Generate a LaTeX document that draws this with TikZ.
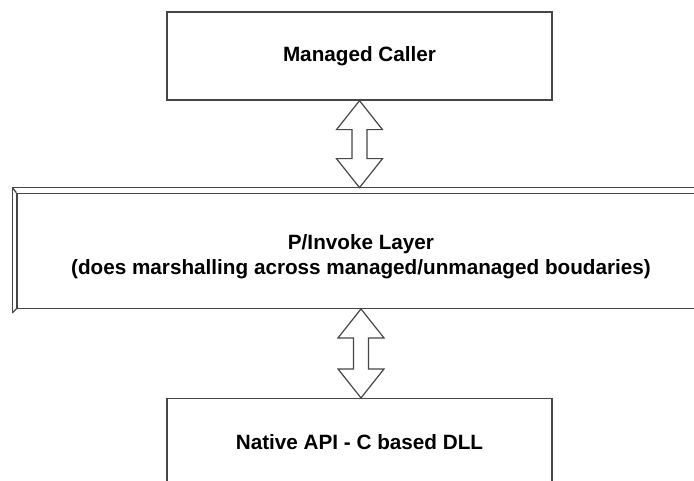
\documentclass[tikz,border=0pt]{standalone}
\usepackage{fontspec}
\setmainfont{Liberation Sans}
\usetikzlibrary{calc,positioning}
\definecolor{edgegray}{RGB}{70,70,70}

% hollow two-headed block arrow between two anchors
\newcommand{\dualarrow}[2]{%
  \draw[hollow] let \p1=(#1), \p2=(#2) in
    (\x1,\y1) -- (\x1+23pt,\y1-29pt) -- (\x1+7.5pt,\y1-29pt)
    -- (\x1+7.5pt,\y2+29pt) -- (\x1+23pt,\y2+29pt) -- (\x1,\y2)
    -- (\x1-23pt,\y2+29pt) -- (\x1-7.5pt,\y2+29pt)
    -- (\x1-7.5pt,\y1-29pt) -- (\x1-23pt,\y1-29pt) -- cycle;
}

\begin{document}
\begin{tikzpicture}[
    x=1pt,y=1pt,
    font=\fontsize{20.7}{25}\selectfont\bfseries,
    box/.style={
      rectangle,draw=edgegray,line width=1.3pt,fill=white,
      minimum width=385pt,minimum height=88pt,align=center
    },
    panel/.style={
      rectangle,draw=edgegray,line width=1.3pt,fill=white,
      minimum width=688pt,minimum height=115pt,align=center
    },
    bevel/.style={draw=edgegray,line width=1.3pt,line join=miter},
    hollow/.style={draw=edgegray,line width=1.2pt,fill=white,line join=miter}
  ]
    \useasboundingbox (0,0) rectangle (694,-481);
    \clip (0,0) rectangle (694,-481);

    \node[box] (caller) at (359.5,-56) {Managed Caller};
    \node[panel,below=92pt of caller,xshift=1.5pt] (layer)
      {\rule{0pt}{27pt}P/Invoke Layer\\(does marshalling across managed/unmanaged boudaries)};
    \node[box,below=89pt of layer,xshift=-1.5pt] (native) {Native API - C based DLL};

    % raised edge of the layer panel
    \draw[bevel] ([xshift=-4pt,yshift=-4pt]layer.south west)
      -- ([xshift=-4pt,yshift=5pt]layer.north west)
      -- ([xshift=-4pt,yshift=5pt]layer.north east);
    \draw[bevel] ([xshift=-4pt,yshift=5pt]layer.north west) -- (layer.north west);
    \draw[bevel] ([xshift=-4pt,yshift=-4pt]layer.south west) -- (layer.south west);

    \dualarrow{caller.south}{[yshift=5pt]layer.north}
    \dualarrow{layer.south}{native.north}
  \end{tikzpicture}
\end{document}
